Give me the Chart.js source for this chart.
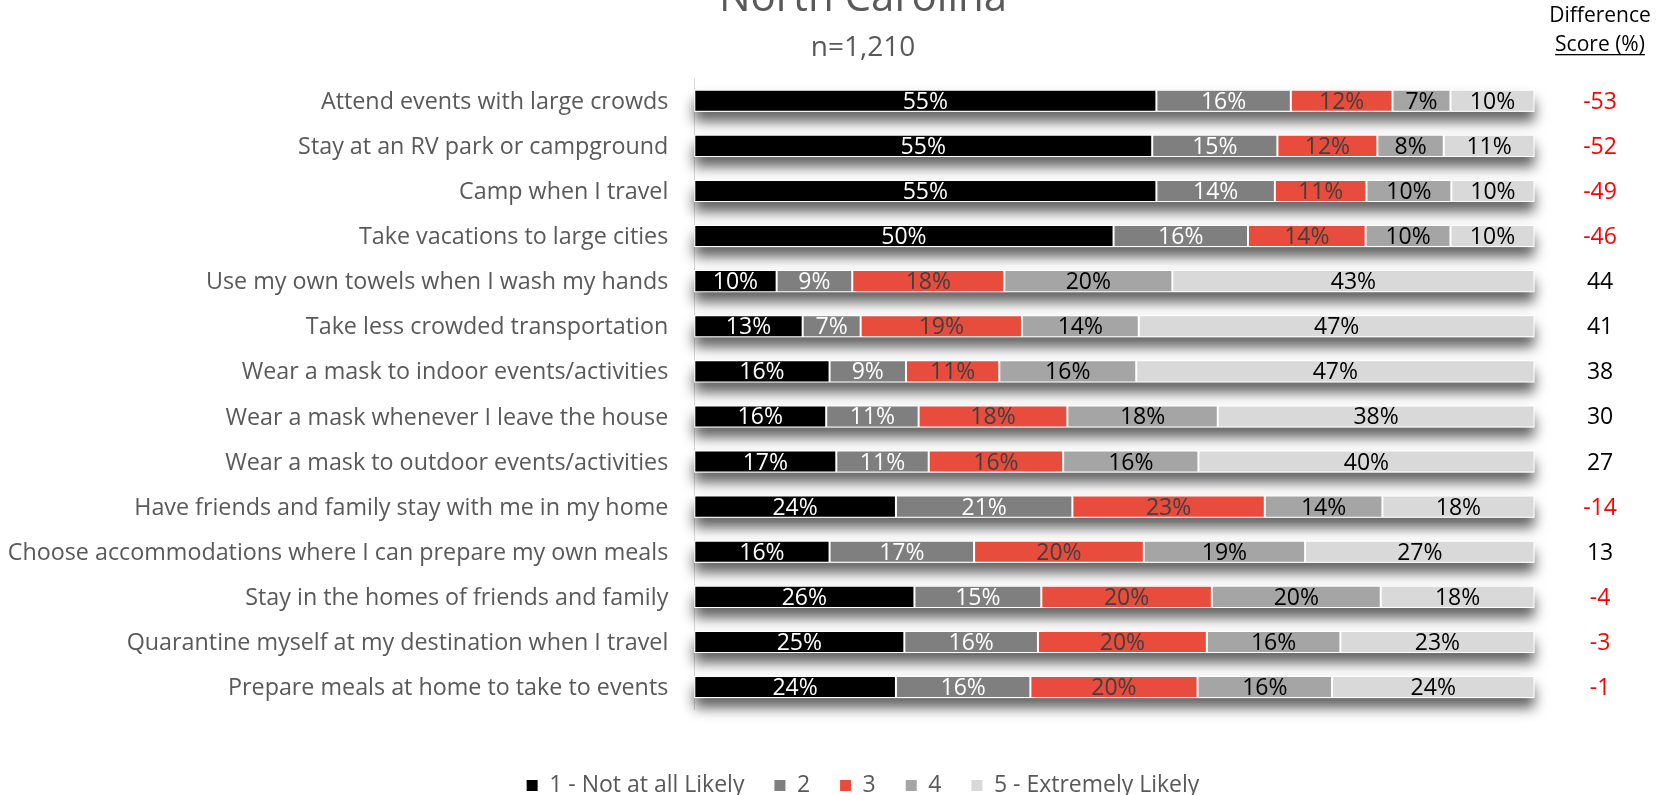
<!DOCTYPE html>
<html>
<head>
<meta charset="utf-8">
<script src="https://cdn.jsdelivr.net/npm/chart.js@4"></script>
<style>
  html, body { margin: 0; padding: 0; background: #ffffff; }
  #wrap { position: relative; width: 1662px; height: 795px; }
</style>
</head>
<body>
<div id="wrap"><canvas id="c"></canvas></div>
<script>
// ---------- data ----------
const categories = [
  'Attend events with large crowds',
  'Stay at an RV park or campground',
  'Camp when I travel',
  'Take vacations to large cities',
  'Use my own towels when I wash my hands',
  'Take less crowded transportation',
  'Wear a mask to indoor events/activities',
  'Wear a mask whenever I leave the house',
  'Wear a mask to outdoor events/activities',
  'Have friends and family stay with me in my home',
  'Choose accommodations where I can prepare my own meals',
  'Stay in the homes of friends and family',
  'Quarantine myself at my destination when I travel',
  'Prepare meals at home to take to events'
];
const seriesNames = ['1 - Not at all Likely', '2', '3', '4', '5 - Extremely Likely'];
const notAtAllLikely = [55.0, 54.5, 55.0, 49.9, 9.8, 12.9, 16.1, 15.7, 16.9, 24.0, 16.1, 26.2, 25.0, 24.0];
const likely2        = [16.0, 14.9, 14.1, 16.0, 9.0, 6.9, 9.1, 11.0, 11.0, 21.0, 17.2, 15.1, 15.9, 16.0];
const likely3        = [12.1, 11.9, 10.9, 14.0, 18.1, 19.2, 11.1, 17.7, 16.0, 22.9, 20.2, 20.3, 20.1, 19.9];
const likely4        = [6.9, 7.9, 10.1, 10.1, 20.0, 13.9, 16.3, 17.9, 16.1, 14.0, 19.2, 20.1, 15.9, 16.0];
const extremelyLikely= [10.0, 10.8, 9.9, 10.0, 43.1, 47.1, 47.4, 37.7, 40.0, 18.1, 27.3, 18.3, 23.1, 24.1];
const differenceScores = [-53, -52, -49, -46, 44, 41, 38, 30, 27, -14, 13, -4, -3, -1];
const titleText = 'North Carolina';
const subtitleText = 'n=1,210';
const diffHeader = ['Difference', 'Score (%)'];

// ---------- styles ----------
const FONT = '"Open Sans", "Noto Sans", sans-serif';
const barColors = ['#000000', '#7f7f7f', '#e74c3c', '#a5a5a5', '#d9d9d9'];
const labelColors = ['#ffffff', '#ffffff', '#404040', '#000000', '#000000'];
const seriesValues = [notAtAllLikely, likely2, likely3, likely4, extremelyLikely];

const shadowPlugin = {
  id: 'rowShadow',
  beforeDatasetsDraw(chart) {
    const ctx = chart.ctx;
    const x = chart.scales.x;
    const first = chart.getDatasetMeta(0).data;
    const lastMeta = chart.getDatasetMeta(chart.data.datasets.length - 1).data;
    ctx.save();
    ctx.shadowColor = 'rgba(0,0,0,0.62)';
    ctx.shadowBlur = 13;
    ctx.shadowOffsetY = 10;
    ctx.fillStyle = '#ffffff';
    first.forEach((el, i) => {
      const left = x.getPixelForValue(0);
      const right = lastMeta[i].x;
      const h = el.height;
      ctx.fillRect(left, el.y - h / 2, right - left, h);
    });
    ctx.restore();
  }
};

const labelPlugin = {
  id: 'segLabels',
  afterDatasetsDraw(chart) {
    const ctx = chart.ctx;
    ctx.save();
    ctx.font = '23px ' + FONT;
    ctx.textAlign = 'center';
    ctx.textBaseline = 'middle';
    chart.data.datasets.forEach((ds, di) => {
      const meta = chart.getDatasetMeta(di);
      meta.data.forEach((el, i) => {
        const v = ds.data[i];
        ctx.fillStyle = labelColors[di];
        ctx.fillText(Math.round(v) + '%', (el.x + el.base) / 2, el.y + 1.5);
      });
    });
    // Difference column header
    const colX = 1600;
    ctx.fillStyle = '#000000';
    ctx.font = '21px ' + FONT;
    ctx.textBaseline = 'alphabetic';
    ctx.fillText(diffHeader[0], colX, 22);
    ctx.fillText(diffHeader[1], colX, 51);
    const w = ctx.measureText(diffHeader[1]).width;
    ctx.fillRect(colX - w / 2, 54, w, 1.3);
    ctx.restore();
  }
};

function draw() {
  new Chart(document.getElementById('c'), {
    type: 'bar',
    data: {
      labels: categories,
      datasets: seriesValues.map((vals, i) => ({
        label: seriesNames[i],
        data: vals,
        backgroundColor: barColors[i],
        borderColor: '#ffffff',
        borderWidth: 1,
        borderSkipped: false,
        barPercentage: 0.49,
        categoryPercentage: 1.0
      }))
    },
    options: {
      indexAxis: 'y',
      responsive: true,
      maintainAspectRatio: false,
      animation: false,
      layout: { padding: { left: 0, right: -64, top: 0, bottom: -12 } },
      scales: {
        x: {
          stacked: true, min: 0, max: 100,
          display: true,
          ticks: { display: false },
          grid: { display: false, drawTicks: false },
          border: { display: false },
          afterFit(s) { s.height = 34.4; }
        },
        y: {
          stacked: true,
          ticks: { color: '#595959', font: { family: FONT, size: 23.3 }, padding: 26, autoSkip: false, labelOffset: 1.5 },
          grid: { display: false, drawTicks: false },
          border: { display: true, color: '#d9d9d9', width: 1 },
          afterFit(s) { s.width = 694.3; }
        },
        diff: {
          type: 'category',
          axis: 'y',
          position: 'right',
          labels: differenceScores.map(String),
          offset: true,
          ticks: {
            color: (c) => (differenceScores[c.index] < 0 ? '#ff0000' : '#000000'),
            font: { family: FONT, size: 23 },
            padding: 48.7,
            crossAlign: 'center',
            autoSkip: false,
            labelOffset: 1.5
          },
          grid: { display: false, drawTicks: false },
          border: { display: false },
          afterFit(s) { s.width = 191.5; }
        }
      },
      plugins: {
        tooltip: { enabled: false },
        title: {
          display: true, text: titleText, color: '#595959',
          font: { family: FONT, size: 42, weight: 'normal', lineHeight: 1.2 },
          padding: { top: -26.5, bottom: 0 }
        },
        subtitle: {
          display: true, text: subtitleText, color: '#595959',
          font: { family: FONT, size: 28, weight: 'normal', lineHeight: 1.2 },
          padding: { top: 7.4, bottom: 13.3 }
        },
        legend: {
          position: 'bottom',
          labels: {
            color: '#595959',
            font: { family: FONT, size: 23 },
            boxWidth: 11, boxHeight: 11, padding: 30,
            generateLabels(chart) {
              return Chart.defaults.plugins.legend.labels.generateLabels(chart)
                .map(l => Object.assign(l, { strokeStyle: l.fillStyle, lineWidth: 0 }));
            }
          }
        }
      }
    },
    plugins: [shadowPlugin, labelPlugin]
  });
}
if (document.fonts && document.fonts.load) {
  Promise.all([
    document.fonts.load('23px "Open Sans"'),
    document.fonts.load('42px "Open Sans"')
  ]).then(draw, draw);
} else { draw(); }
</script>
</body>
</html>
